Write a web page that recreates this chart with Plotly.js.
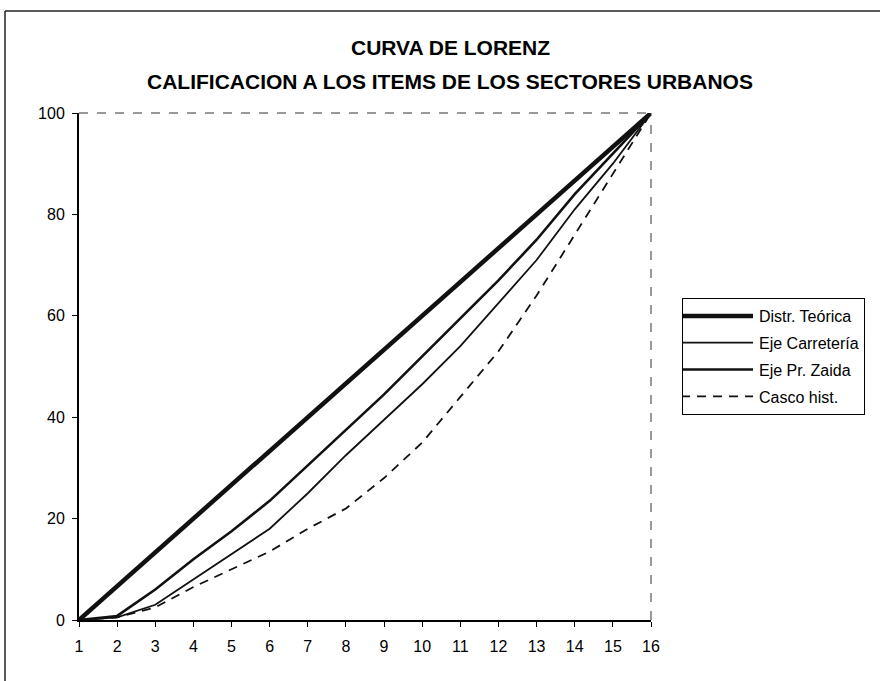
<!DOCTYPE html>
<html>
<head>
<meta charset="utf-8">
<script src="https://cdn.plot.ly/plotly-3.0.1.min.js"></script>
<style>
html,body{margin:0;padding:0;background:#fff;}
#chart{width:880px;height:681px;}
</style>
</head>
<body>
<div id="chart"></div>
<script>
// ---- data ----
const xVals = [1,2,3,4,5,6,7,8,9,10,11,12,13,14,15,16];
const xTickLabels = ['1','2','3','4','5','6','7','8','9','10','11','12','13','14','15','16'];
const distrTeorica = [0,6.67,13.33,20,26.67,33.33,40,46.67,53.33,60,66.67,73.33,80,86.67,93.33,100];
const ejeCarreteria = [0,0.5,3,8,13,18,25,32.5,39.5,46.5,54,62.5,71,81,90,100];
const ejePrZaida = [0,0.8,6,12,17.5,23.5,30.5,37.5,44.5,52,59.5,67,75,84,92,100];
const cascoHist = [0,0.5,2.5,6.5,10,13.5,18,22,28,35,44,53,64,76,88,100];
const seriesNames = ['Distr. Teórica','Eje Carretería','Eje Pr. Zaida','Casco hist.'];
const yTicks = [0,20,40,60,80,100];

const font = 'Liberation Sans, Arial, sans-serif';

const traces = [
  {x:xVals, y:distrTeorica, name:seriesNames[0], mode:'lines', legendgroup:'a',
   line:{color:'#111', width:4.5}},
  {x:xVals, y:ejeCarreteria, name:seriesNames[1], mode:'lines', legendgroup:'b',
   line:{color:'#111', width:1.8}},
  {x:xVals, y:ejePrZaida, name:seriesNames[2], mode:'lines', legendgroup:'c',
   line:{color:'#111', width:2.6}},
  {x:xVals, y:cascoHist, name:seriesNames[3], mode:'lines', legendgroup:'d',
   line:{color:'#111', width:1.8, dash:'9px,7px'}}
];

const layout = {
  width:880, height:681,
  paper_bgcolor:'#fff', plot_bgcolor:'#fff',
  margin:{l:79, r:229, t:113, b:61},
  font:{family:font, color:'#000', size:15},
  title:{
    text:'CURVA DE LORENZ',
    font:{family:font, size:21, color:'#000', weight:'bold'},
    xref:'container', x:0.512, xanchor:'center',
    yref:'container', y:1-48/681, yanchor:'middle'
  },
  annotations:[{
    text:'CALIFICACION A LOS ITEMS DE LOS SECTORES URBANOS',
    font:{family:font, size:21, color:'#000', weight:'bold'},
    xref:'paper', yref:'paper', x:(450-79)/572, y:(620-82)/507,
    xanchor:'center', yanchor:'middle', showarrow:false
  }],
  xaxis:{
    range:[1,16], tickvals:xVals, ticktext:xTickLabels,
    showgrid:false, zeroline:false,
    showline:true, linecolor:'#000', linewidth:2,
    ticks:'outside', ticklen:5, tickwidth:1, tickcolor:'#000',
    ticklabelstandoff:6,
    tickfont:{family:font, size:16, color:'#000'}
  },
  yaxis:{
    range:[0,100], tickvals:yTicks,
    showgrid:false, zeroline:false,
    showline:true, linecolor:'#000', linewidth:2,
    ticks:'outside', ticklen:5, tickwidth:1, tickcolor:'#000',
    ticklabelstandoff:4,
    tickfont:{family:font, size:16, color:'#000'}
  },
  showlegend:true,
  legend:{
    x:(682-79)/572, xanchor:'left', y:(620-298)/507, yanchor:'top',
    bgcolor:'#fff', bordercolor:'#000', borderwidth:1,
    font:{family:font, size:16, color:'#000'},
    traceorder:'grouped', tracegroupgap:3, itemwidth:66
  },
  shapes:[
    // plot-area frame (top and right edges)
    {type:'line', xref:'paper', yref:'paper', x0:0, x1:1, y0:1, y1:1,
     line:{color:'#333', width:1, dash:'dash'}},
    {type:'line', xref:'paper', yref:'paper', x0:1, x1:1, y0:0, y1:1,
     line:{color:'#333', width:1, dash:'dash'}},
    // outer chart border (left and top)
    {type:'line', xref:'paper', yref:'paper', x0:(5-79)/572, x1:(5-79)/572, y0:(620-681)/507, y1:(620-11)/507,
     line:{color:'#222', width:1.5}},
    {type:'line', xref:'paper', yref:'paper', x0:(5-79)/572, x1:(880-79)/572, y0:(620-11)/507, y1:(620-11)/507,
     line:{color:'#222', width:1.5}}
  ]
};

Plotly.newPlot('chart', traces, layout, {displayModeBar:false, staticPlot:true}).then(function(gd){
  // lengthen legend line samples to match the reference legend
  document.querySelectorAll('.legend .legendlines path').forEach(function(p){
    p.setAttribute('d','M-2,0h72');
  });
});
</script>
</body>
</html>
